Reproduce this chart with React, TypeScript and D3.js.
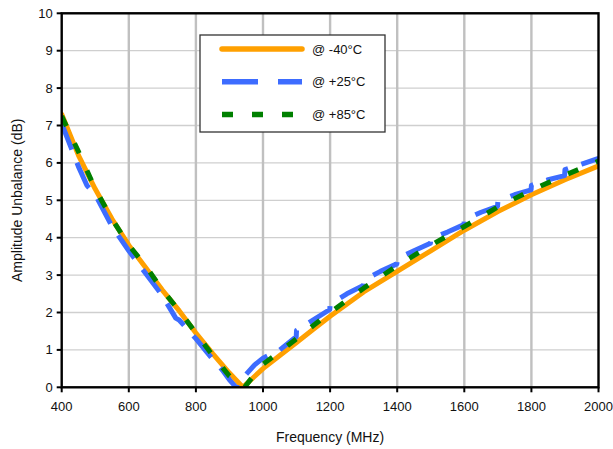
import React from "react";
import * as d3 from "d3";

const xTicks = [400, 600, 800, 1000, 1200, 1400, 1600, 1800, 2000];
const yTicks = [0, 1, 2, 3, 4, 5, 6, 7, 8, 9, 10];

const freqOrange = [400, 450, 500, 550, 600, 650, 700, 750, 800, 850, 900, 940, 1000, 1050, 1100, 1150, 1200, 1300, 1400, 1500, 1600, 1700, 1800, 1900, 2000];
const valOrange = [7.3, 6.2, 5.3, 4.5, 3.8, 3.2, 2.6, 2.05, 1.45, 0.9, 0.38, 0.0, 0.5, 0.85, 1.2, 1.55, 1.9, 2.55, 3.1, 3.65, 4.2, 4.7, 5.15, 5.55, 5.92];

const freqBlue = [400, 450, 475, 500, 550, 600, 650, 700, 740, 750, 800, 850, 880, 900, 920, 935, 950, 975, 1000, 1050, 1099, 1100, 1150, 1199, 1200, 1250, 1299, 1300, 1350, 1399, 1400, 1450, 1499, 1500, 1550, 1599, 1600, 1650, 1699, 1700, 1750, 1799, 1800, 1850, 1899, 1900, 1950, 2000];
const valBlue = [7.05, 5.9, 5.4, 5.15, 4.3, 3.65, 3.05, 2.45, 1.85, 1.8, 1.3, 0.75, 0.45, 0.2, 0.0, 0.25, 0.35, 0.6, 0.78, 1.0, 1.35, 1.52, 1.8, 2.08, 2.22, 2.5, 2.72, 2.86, 3.1, 3.3, 3.45, 3.65, 3.85, 3.97, 4.15, 4.35, 4.48, 4.68, 4.84, 4.96, 5.15, 5.28, 5.4, 5.55, 5.66, 5.82, 5.97, 6.12];

const freqGreen = [400, 450, 500, 550, 600, 650, 700, 750, 800, 850, 900, 925, 945, 975, 1000, 1050, 1100, 1150, 1200, 1300, 1400, 1500, 1600, 1700, 1800, 1900, 2000];
const valGreen = [7.25, 6.3, 5.3, 4.5, 3.8, 3.25, 2.6, 2.05, 1.45, 0.85, 0.3, 0.15, 0.0, 0.35, 0.62, 0.95, 1.3, 1.65, 2.0, 2.65, 3.25, 3.8, 4.3, 4.82, 5.27, 5.67, 6.05];

const seriesNames = ["@ -40\u00B0C", "@ +25\u00B0C", "@ +85\u00B0C"];

export default function App() {
  const W = 613, H = 449;
  const left = 61.7, right = 598.5, top = 13.3, bottom = 387.3;
  const x = d3.scaleLinear().domain([400, 2000]).range([left, right]);
  const y = d3.scaleLinear().domain([0, 10]).range([bottom, top]);
  const line = d3.line<[number, number]>().x(d => x(d[0])).y(d => y(d[1]));
  const zip = (f: number[], v: number[]) => f.map((fv, i) => [fv, v[i]] as [number, number]);
  const font = "'Liberation Sans', Arial, sans-serif";

  const styles = [
    { color: "#ffa000", dash: "", cap: "round" as const, freq: freqOrange, val: valOrange },
    { color: "#3d6cff", dash: "28 14", cap: "butt" as const, freq: freqBlue, val: valBlue },
    { color: "#008000", dash: "11 19", cap: "butt" as const, freq: freqGreen, val: valGreen },
  ];

  return (
    <svg width={W} height={H} style={{ position: "absolute", left: 0, top: 0, background: "#fff" }} fontFamily={font}>
      <defs>
        <clipPath id="plot">
          <rect x={left} y={top - 3} width={right - left} height={bottom - top + 3} />
        </clipPath>
      </defs>
      <rect x={0} y={0} width={W} height={H} fill="#fff" />
      {yTicks.filter(t => t > 0 && t < 10).map(t => (
        <line key={"hy" + t} x1={left} x2={right} y1={y(t)} y2={y(t)} stroke="#cfcfcf" strokeWidth={1.3} />
      ))}
      {xTicks.filter(t => t > 400 && t < 2000).map(t => (
        <line key={"vx" + t} x1={x(t)} x2={x(t)} y1={top} y2={bottom} stroke="#c0c0c0" strokeWidth={2.4} />
      ))}
      <g clipPath="url(#plot)">
        {styles.map((s, i) => (
          <path key={i} d={line(zip(s.freq, s.val)) || ""} fill="none" stroke={s.color} strokeWidth={5}
            strokeDasharray={s.dash || undefined} strokeLinecap={s.cap} strokeLinejoin="round" />
        ))}
      </g>
      <rect x={left} y={top} width={right - left} height={bottom - top} fill="none" stroke="#000" strokeWidth={2.4} />
      {yTicks.map(t => (
        <g key={"yt" + t}>
          <line x1={left - 5} x2={left} y1={y(t)} y2={y(t)} stroke="#000" strokeWidth={2} />
          <text x={left - 9} y={y(t)} dy="0.35em" textAnchor="end" fontSize={13} fill="#111">{t}</text>
        </g>
      ))}
      {xTicks.map(t => (
        <g key={"xt" + t}>
          <line x1={x(t)} x2={x(t)} y1={bottom} y2={bottom + 5} stroke="#000" strokeWidth={2} />
          <text x={x(t)} y={406.5} dy="0.35em" textAnchor="middle" fontSize={13} fill="#111">{t}</text>
        </g>
      ))}
      <text x={(left + right) / 2} y={437} dy="0.35em" textAnchor="middle" fontSize={14} fill="#111">Frequency (MHz)</text>
      <text transform={`translate(17,${(top + bottom) / 2}) rotate(-90)`} dy="0.35em" textAnchor="middle" fontSize={14} fill="#111">Amplitude Unbalance (dB)</text>
      <rect x={200} y={35} width={185} height={97} fill="#fff" stroke="#333" strokeWidth={1.3} />
      {styles.map((s, i) => {
        const ly = 49 + i * 32.8;
        return (
          <g key={"lg" + i}>
            <line x1={222} x2={302} y1={ly} y2={ly} stroke={s.color} strokeWidth={5.5}
              strokeDasharray={i === 1 ? "36 20" : i === 2 ? "11 19" : undefined} strokeLinecap={s.cap} />
            <text x={312} y={ly} dy="0.35em" fontSize={13} fill="#111">{seriesNames[i]}</text>
          </g>
        );
      })}
    </svg>
  );
}
